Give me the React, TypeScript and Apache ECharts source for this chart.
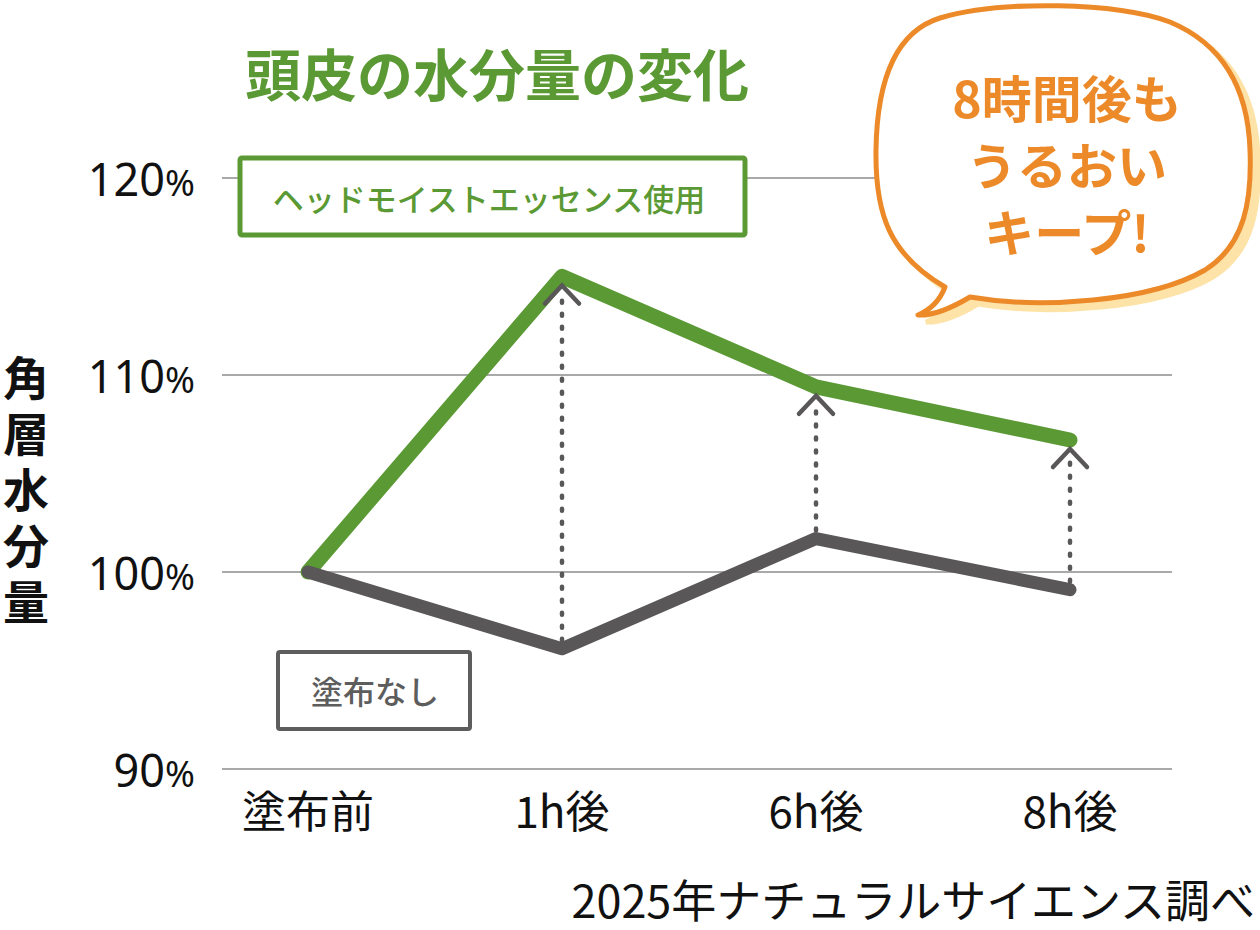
import React, { useEffect, useRef } from 'react'
import * as echarts from 'echarts'

// data
const categories = ['塗布前', '1h後', '6h後', '8h後']
const withEssence = [100, 115, 109.4, 106.7]
const withoutEssence = [100, 96.1, 101.7, 99.1]
const yMin = 90
const yMax = 120
const yStep = 10
const yAxisName = ['角', '層', '水', '分', '量']

const GREEN = '#5a9933'
const GRAY = '#595757'
const ORANGE = '#ec8a2a'
const JP = '"Noto Sans CJK JP", "Noto Sans", sans-serif'

// speech bubble outline (absolute page coords)
const bubblePath =
    'M 970 297 C 1040 309 1150 302 1205 270 C 1245 245 1252 200 1250 150 ' +
    'C 1248 90 1225 45 1170 22 C 1120 2 1000 0 940 18 C 895 32 877 80 876 150 ' +
    'C 875 215 890 255 945 287 C 940 300 930 310 918 315 C 935 316 955 306 970 297 Z'
echarts.graphic.registerShape('bubble', echarts.graphic.extendPath(bubblePath, {}))

const App: React.FC = () => {
    const chartRef = useRef<HTMLDivElement | null>(null)

    useEffect(() => {
        if (!chartRef.current) return
        const chart = echarts.init(chartRef.current, undefined, { renderer: 'svg' })

        // dotted arrow from "no essence" value up to "essence" value
        const arrowData = categories.slice(1).map((_, i) => [i + 1, withoutEssence[i + 1], withEssence[i + 1]])

        const nameTexts = yAxisName.map((ch, i) => ({
            type: 'text',
            x: 26,
            y: 375 + i * 56,
            z: 10,
            style: {
                text: ch,
                fill: '#111',
                fontSize: 46,
                lineHeight: 50,
                fontWeight: 'bold',
                fontFamily: JP,
                textAlign: 'center',
                textVerticalAlign: 'middle',
            },
        }))

        const options: any = {
            animation: false,
            grid: [
                { left: 222, right: 88, top: 178, bottom: 161 },
                { left: 308, right: 190, top: 178, bottom: 161 },
            ],
            xAxis: [
                { gridIndex: 0, type: 'value', min: 0, max: 1, show: false },
                {
                    gridIndex: 1,
                    type: 'category',
                    data: categories,
                    boundaryGap: false,
                    axisLine: { show: false },
                    axisTick: { show: false },
                    axisLabel: { color: '#111', fontSize: 44, fontFamily: JP, margin: 18 },
                },
            ],
            yAxis: [
                {
                    gridIndex: 0,
                    type: 'value',
                    min: yMin,
                    max: yMax,
                    interval: yStep,
                    axisLine: { show: false },
                    axisTick: { show: false },
                    splitLine: { lineStyle: { color: '#8c8c8c', width: 1.5 } },
                    axisLabel: {
                        margin: 27,
                        formatter: (v: number) => `{n|${v}}{p|%}`,
                        rich: {
                            n: { fontSize: 45, fontFamily: '"Noto Sans"', color: '#111', verticalAlign: 'bottom' },
                            p: { fontSize: 36, fontFamily: '"Noto Sans"', color: '#111', verticalAlign: 'bottom' },
                        },
                    },
                },
                { gridIndex: 1, type: 'value', min: yMin, max: yMax, show: false, splitLine: { show: false } },
            ],
            series: [
                {
                    type: 'line',
                    xAxisIndex: 1,
                    yAxisIndex: 1,
                    data: withEssence,
                    symbol: 'none',
                    lineStyle: { color: GREEN, width: 15, cap: 'round', join: 'round' },
                    z: 3,
                },
                {
                    type: 'line',
                    xAxisIndex: 1,
                    yAxisIndex: 1,
                    data: withoutEssence,
                    symbol: 'none',
                    lineStyle: { color: GRAY, width: 13, cap: 'round', join: 'round' },
                    z: 4,
                },
                {
                    type: 'custom',
                    xAxisIndex: 1,
                    yAxisIndex: 1,
                    data: arrowData,
                    encode: { x: 0, y: [1, 2] },
                    z: 5,
                    renderItem: (_params: any, api: any) => {
                        const x = api.value(0)
                        const p0 = api.coord([x, api.value(1)])
                        const p1 = api.coord([x, api.value(2)])
                        const apex = p1[1] + 9
                        return {
                            type: 'group',
                            children: [
                                {
                                    type: 'line',
                                    shape: { x1: p0[0], y1: p0[1] - 8, x2: p1[0], y2: apex + 5 },
                                    style: { stroke: GRAY, lineWidth: 4.5, lineDash: [2, 11], lineCap: 'round' },
                                },
                                {
                                    type: 'polyline',
                                    shape: { points: [[p1[0] - 17, apex + 18], [p1[0], apex], [p1[0] + 17, apex + 18]] },
                                    style: { stroke: GRAY, lineWidth: 4.5, fill: 'none', lineCap: 'round' },
                                },
                            ],
                        }
                    },
                },
            ],
            graphic: [
                {
                    type: 'text',
                    x: 497,
                    y: 71,
                    z: 10,
                    style: {
                        text: '頭皮の水分量の変化',
                        fill: GREEN,
                        fontSize: 56,
                        fontWeight: 'bold',
                        fontFamily: JP,
                        textAlign: 'center',
                        textVerticalAlign: 'middle',
                    },
                },
                ...nameTexts,
                {
                    type: 'rect',
                    z: 10,
                    shape: { x: 240, y: 158, width: 505, height: 77, r: 2 },
                    style: { fill: '#fff', stroke: GREEN, lineWidth: 5 },
                },
                {
                    type: 'text',
                    x: 489,
                    y: 197,
                    z: 11,
                    style: {
                        text: 'ヘッドモイストエッセンス使用',
                        fill: GREEN,
                        fontSize: 31,
                        fontWeight: 500,
                        fontFamily: JP,
                        textAlign: 'center',
                        textVerticalAlign: 'middle',
                    },
                },
                {
                    type: 'rect',
                    z: 10,
                    shape: { x: 278, y: 652, width: 192, height: 77, r: 2 },
                    style: { fill: '#fff', stroke: '#5d5d5d', lineWidth: 4 },
                },
                {
                    type: 'text',
                    x: 375,
                    y: 690,
                    z: 11,
                    style: {
                        text: '塗布なし',
                        fill: '#5d5d5d',
                        fontSize: 32,
                        fontWeight: 500,
                        fontFamily: JP,
                        textAlign: 'center',
                        textVerticalAlign: 'middle',
                    },
                },
                {
                    type: 'bubble',
                    x: 8,
                    y: 7,
                    z: 10,
                    style: { fill: '#fde3a8', stroke: '#fde3a8', lineWidth: 5 },
                },
                {
                    type: 'bubble',
                    x: 0,
                    y: 0,
                    z: 11,
                    style: { fill: '#fff', stroke: ORANGE, lineWidth: 5, lineJoin: 'round' },
                },
                {
                    type: 'text',
                    x: 1067,
                    y: 163,
                    z: 12,
                    style: {
                        text: '8時間後も\nうるおい\nキープ!',
                        fill: ORANGE,
                        fontSize: 50,
                        lineHeight: 67,
                        fontWeight: 'bold',
                        fontFamily: JP,
                        textAlign: 'center',
                        textVerticalAlign: 'middle',
                    },
                },
                {
                    type: 'text',
                    x: 1255,
                    y: 898,
                    z: 10,
                    style: {
                        text: '2025年ナチュラルサイエンス調べ',
                        fill: '#111',
                        fontSize: 45,
                        fontFamily: JP,
                        textAlign: 'right',
                        textVerticalAlign: 'middle',
                    },
                },
            ],
        }

        chart.setOption(options)

        const handleResize = () => chart.resize()
        window.addEventListener('resize', handleResize)

        return () => {
            window.removeEventListener('resize', handleResize)
            chart.dispose()
        }
    }, [])

    return (
        <div
            ref={chartRef}
            style={{ position: 'fixed', left: 0, top: 0, width: '1260px', height: '930px', background: '#fff' }}
        />
    )
}

export default App
